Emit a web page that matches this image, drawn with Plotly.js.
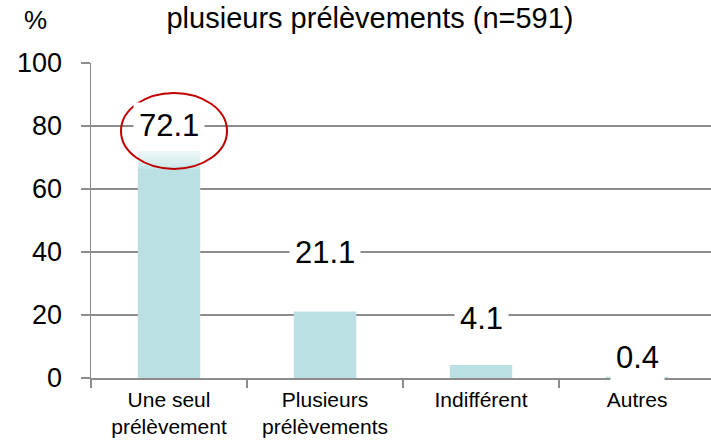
<!DOCTYPE html>
<html>
<head>
<meta charset="utf-8">
<script src="https://cdn.plot.ly/plotly-3.0.1.min.js"></script>
<style>
    body { margin: 0; background: #ffffff; }
    #chart { width: 711px; height: 440px; }
</style>
</head>
<body>
<div id="chart"></div>
<script>
// Data
var categories = ['Une seul<br>prélèvement', 'Plusieurs<br>prélèvements', 'Indifférent', 'Autres'];
var percents = [72.1, 21.1, 4.1, 0.4];
var valueLabels = ['72.1', '21.1', '4.1', '0.4'];

// pixel lift of each value label above its bar (placed by hand in the original)
var labelLift = [25, 59, 47, 19];

var gridGrey = '#8c8c8c';
var barColor = '#bae0e4';
var fontName = 'Liberation Sans, Arial, sans-serif';

function createBarChart() {
    var bars = {
        x: categories,
        y: percents,
        type: 'bar',
        width: 0.4,
        marker: {
            color: barColor
        },
        hoverinfo: 'none'
    };

    var annotations = [];
    for (var i = 0; i < percents.length; i++) {
        annotations.push({
            x: categories[i],
            y: percents[i],
            xref: 'x',
            yref: 'y',
            text: valueLabels[i],
            showarrow: false,
            yshift: labelLift[i],
            bgcolor: '#ffffff',
            borderpad: 5,
            font: { size: 31, color: '#000000', family: fontName }
        });
    }

    // the '%' unit over the value axis (paper coords are relative to the plot area)
    annotations.push({
        x: (35 - 91) / 620,
        y: (378 - 20) / 315,
        xref: 'paper', yref: 'paper',
        xanchor: 'center', yanchor: 'middle',
        text: '%',
        showarrow: false,
        font: { size: 26, color: '#000000', family: fontName }
    });

    var shapes = [];
    // soft white fade at the top of the first bar
    for (var k = 1; k <= 6; k++) {
        shapes.push({
            type: 'rect',
            xref: 'x', yref: 'y',
            xsizemode: 'pixel', ysizemode: 'pixel',
            xanchor: categories[0], yanchor: percents[0],
            x0: -32, x1: 32,
            y0: -3 * k, y1: 0,
            fillcolor: 'rgba(255,255,255,0.2)',
            line: { width: 0 },
            layer: 'above'
        });
    }
    // red ellipse round the first value label
    shapes.push({
        type: 'circle',
        xref: 'x', yref: 'y',
        xsizemode: 'pixel', ysizemode: 'pixel',
        xanchor: categories[0], yanchor: percents[0],
        x0: -48, x1: 58,
        y0: -18, y1: 58,
        line: { color: '#c00000', width: 2 },
        layer: 'above'
    });

    var layout = {
        width: 711,
        height: 440,
        paper_bgcolor: '#ffffff',
        plot_bgcolor: '#ffffff',
        showlegend: false,
        font: { family: fontName, color: '#000000' },
        margin: { l: 91, r: 0, t: 63, b: 62 },
        title: {
            text: 'plusieurs prélèvements (n=591)',
            x: 370 / 711,
            xanchor: 'center',
            y: 1 - 18 / 440,
            yanchor: 'middle',
            font: { size: 29, color: '#000000', family: fontName }
        },
        xaxis: {
            type: 'category',
            range: [-0.5, 3.474],
            tickson: 'boundaries',
            ticks: 'outside',
            ticklen: 8,
            tickwidth: 1.5,
            tickcolor: gridGrey,
            showline: true,
            linecolor: gridGrey,
            linewidth: 1.5,
            showgrid: false,
            ticklabelstandoff: 2,
            tickfont: { size: 21, color: '#000000', family: fontName }
        },
        yaxis: {
            range: [0, 100],
            dtick: 20,
            ticks: 'outside',
            ticklen: 9,
            tickwidth: 1.5,
            tickcolor: gridGrey,
            showline: true,
            linecolor: gridGrey,
            linewidth: 1.5,
            showgrid: true,
            gridcolor: gridGrey,
            gridwidth: 1.5,
            zeroline: false,
            ticklabelstandoff: 13,
            tickfont: { size: 27, color: '#000000', family: fontName }
        },
        annotations: annotations,
        shapes: shapes
    };

    Plotly.newPlot('chart', [bars], layout, { staticPlot: true });
}

createBarChart();
</script>
</body>
</html>
